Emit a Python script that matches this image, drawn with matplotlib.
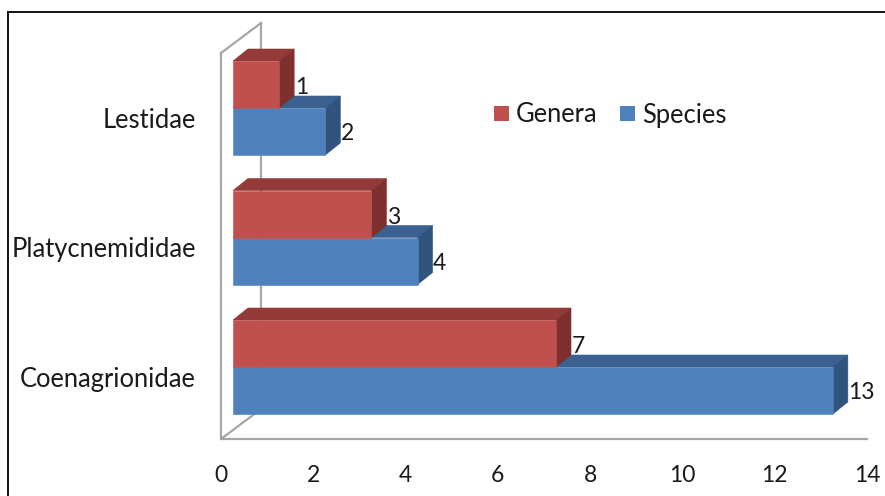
import matplotlib
matplotlib.use("Agg")
import matplotlib.pyplot as plt
from matplotlib.patches import Polygon, Rectangle

families = ["Coenagrionidae", "Platycnemididae", "Lestidae"]
species = [13, 4, 2]
genera = [7, 3, 1]
x_ticks = [0, 2, 4, 6, 8, 10, 12, 14]

W, H = 885, 496
RED, RED_TOP, RED_SIDE = "#C0504D", "#943B39", "#7F302E"
BLUE, BLUE_TOP, BLUE_SIDE = "#4F81BD", "#3A6190", "#31547F"
WALL = "#A6A6A6"

fig = plt.figure(figsize=(W / 100, H / 100), dpi=100, facecolor="white")

# plot box in pixels: left wall at x=221, floor at y=439
left, right, top, bottom = 221, 867, 23, 439
ax = fig.add_axes([left / W, 1 - bottom / H, (right - left) / W, (bottom - top) / H])
ax.set_xlim(0, 14)
# one category step is 129.5 px; category 0 has its series boundary at y=367
ax.set_ylim((367 - bottom) / 129.5, (367 - top) / 129.5)
ax.axis("off")

sx = (right - left) / 14      # px per x unit
sy = 129.5                    # px per category
x0 = 12 / sx                  # gap between wall and bar start
dx, dy = 15 / sx, 12 / sy     # bar depth
bar_h = 47 / sy


def box(value, y_low, front, top_c, side):
    xa, xb = x0, x0 + value
    y_high = y_low + bar_h
    ax.add_patch(Polygon([(xa, y_high), (xb, y_high), (xb + dx, y_high + dy), (xa + dx, y_high + dy)],
                         fc=top_c, ec=top_c, lw=0.4, zorder=3))
    ax.add_patch(Polygon([(xb, y_low), (xb + dx, y_low + dy), (xb + dx, y_high + dy), (xb, y_high)],
                         fc=side, ec=side, lw=0.4, zorder=3))
    ax.add_patch(Rectangle((xa, y_low), value, bar_h, fc=front, ec=front, lw=0.4, zorder=4))


# walls of the 3D frame
wx = 40 / sx
wy = 30 / sy
ymin, ymax = ax.get_ylim()
wall_kw = dict(color=WALL, lw=1.6, clip_on=False, solid_joinstyle="miter", zorder=1)
ax.plot([wx, wx], [ymin + wy, ymax], **wall_kw)
ax.plot([0, 0, wx], [ymax - wy, ymin, ymin + wy], **wall_kw)
ax.plot([0, wx], [ymax - wy, ymax], **wall_kw)
ax.plot([0, 14], [ymin, ymin], **wall_kw)

# draw top rows first so lower bars overlap correctly
for i in reversed(range(len(families))):
    box(species[i], i - bar_h, BLUE, BLUE_TOP, BLUE_SIDE)
    box(genera[i], i, RED, RED_TOP, RED_SIDE)

txt = dict(fontsize=16.5, color="#1a1a1a", family=["Lato", "DejaVu Sans"])
wide = dict(txt, fontsize=18.4)
for i, name in enumerate(families):
    ax.annotate(name, (0, i), xytext=(196, H - (367 - 129.5 * i) - 12), xycoords="data",
                textcoords="figure pixels", ha="right", va="center", **wide)
    ax.text(x0 + species[i] + dx + 0.5 / sx, i - bar_h / 2 - 2 / sy, str(species[i]),
            ha="left", va="center", zorder=5, **txt)
    ax.text(x0 + genera[i] + dx + 0.5 / sx, i + bar_h / 2 - 3 / sy, str(genera[i]),
            ha="left", va="center", zorder=5, **txt)

for t in x_ticks:
    ax.annotate(str(t), (t, ymin), xytext=(0, -37), textcoords="offset pixels",
                ha="center", va="center", **txt)

# legend entries placed by hand in figure pixels
leg = [("Genera", RED, 494, 516), ("Species", BLUE, 620, 642)]
for label, colour, sq, tx in leg:
    fig.add_artist(Rectangle((sq / W, 1 - 121 / H), 15 / W, 15 / H, transform=fig.transFigure,
                             fc=colour, ec="none"))
    fig.text(tx / W, 1 - 115 / H, label, ha="left", va="center", **wide)

# outer frame: top and left edges only
fr = dict(color="black", lw=1.3, transform=fig.transFigure)
fig.add_artist(plt.Line2D([8 / W, 1], [1 - 11.5 / H, 1 - 11.5 / H], **fr))
fig.add_artist(plt.Line2D([8 / W, 8 / W], [1 - 11.5 / H, 0], **fr))

fig.savefig("out.png", dpi=100)
